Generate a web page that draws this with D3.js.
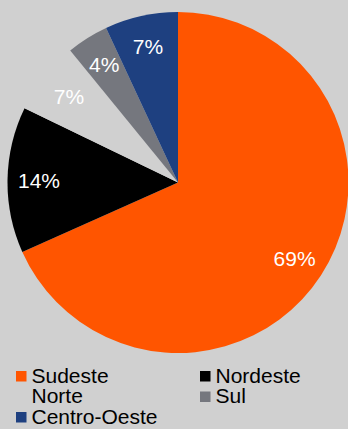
<!DOCTYPE html>
<html>
<head>
<meta charset="utf-8">
<script src="https://cdn.jsdelivr.net/npm/d3@7"></script>
<style>
  html, body { margin: 0; padding: 0; background: #d0d0d0; }
  svg { display: block; }
  text { font-family: "Liberation Sans", Arial, sans-serif; }
</style>
</head>
<body>
<svg id="chart" width="348" height="429"></svg>
<script>
// Regional shares (percent)
const regions = ["Sudeste", "Nordeste", "Norte", "Sul", "Centro-Oeste"];
const shares = [69, 14, 7, 4, 7];
const colors = ["#ff5500", "#000000", "#d0d0d0", "#75777e", "#1e4080"];

const W = 348, H = 429;
const cx = 178, cy = 182.5, R = 170.5;

const svg = d3.select("#chart");
svg.append("rect").attr("width", W).attr("height", H).attr("fill", "#d0d0d0");

const color = d3.scaleOrdinal().domain(regions).range(colors);

const data = regions.map((r, i) => ({ region: r, value: shares[i] }));

const pie = d3.pie().value(d => d.value).sort(null);
const arc = d3.arc().innerRadius(0).outerRadius(R);
const labelArc = d3.arc().innerRadius(139).outerRadius(139);

const g = svg.append("g").attr("transform", `translate(${cx},${cy})`);
const arcs = pie(data);

g.selectAll("path.slice")
  .data(arcs)
  .join("path")
  .attr("class", "slice")
  .attr("d", arc)
  .attr("fill", d => color(d.data.region));

g.selectAll("text.pct")
  .data(arcs)
  .join("text")
  .attr("class", "pct")
  .attr("transform", d => `translate(${labelArc.centroid(d)})`)
  .attr("text-anchor", "middle")
  .attr("dy", "0.36em")
  .attr("fill", "#ffffff")
  .attr("font-size", "21px")
  .text(d => d.data.value + "%");

// Legend: two columns, filled row by row
const legendX = [16, 200];
const legendBase = 382.5, rowH = 20.5;
const lg = svg.append("g");
const items = lg.selectAll("g.item")
  .data(regions)
  .join("g")
  .attr("class", "item")
  .attr("transform", (d, i) => `translate(${legendX[i % 2]},${legendBase + Math.floor(i / 2) * rowH})`);

items.append("rect")
  .attr("x", 0).attr("y", -11.5)
  .attr("width", 10.5).attr("height", 10.5)
  .attr("fill", d => color(d));

items.append("text")
  .attr("x", 15.5).attr("y", 0)
  .attr("font-size", "21px")
  .attr("fill", "#000000")
  .text(d => d);
</script>
</body>
</html>
